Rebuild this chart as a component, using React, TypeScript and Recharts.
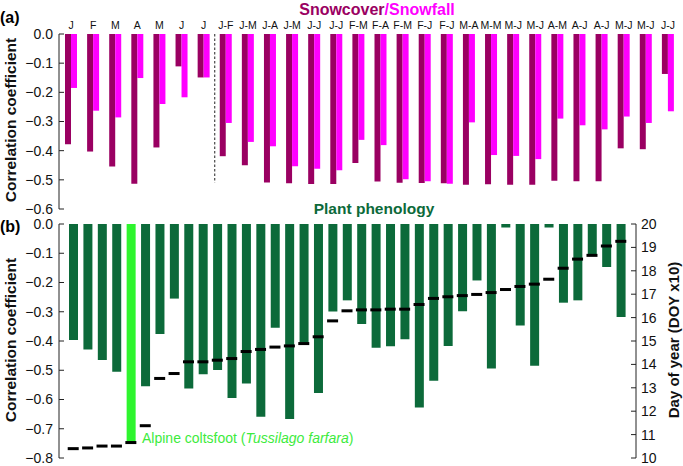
import React from 'react';
import { BarChart, Bar, ComposedChart, Line, XAxis, YAxis, ReferenceLine, Cell } from 'recharts';

// panel (a): snow cover / snowfall windows
const windowLabels = [
  'J', 'F', 'M', 'A', 'M', 'J', 'J',
  'J-F', 'J-M', 'J-A', 'J-M', 'J-J', 'J-J', 'F-M', 'F-A', 'F-M', 'F-J', 'F-J',
  'M-A', 'M-M', 'M-J', 'M-J', 'A-M', 'A-J', 'A-J', 'M-J', 'M-J', 'J-J',
];
const snowcover = [
  -0.378, -0.403, -0.454, -0.513, -0.389, -0.111, -0.149,
  -0.419, -0.45, -0.509, -0.512, -0.514, -0.514, -0.442, -0.506, -0.51, -0.511, -0.512,
  -0.517, -0.515, -0.517, -0.517, -0.503, -0.505, -0.505, -0.392, -0.395, -0.137,
];
const snowfall = [
  -0.185, -0.263, -0.286, -0.151, -0.24, -0.217, -0.149,
  -0.305, -0.37, -0.385, -0.453, -0.462, -0.467, -0.363, -0.381, -0.498, -0.505, -0.513,
  -0.303, -0.415, -0.418, -0.429, -0.29, -0.313, -0.327, -0.283, -0.305, -0.265,
];
const firstMultiMonth = 7;

// panel (b): plant phenology
const phenology = [
  -0.397, -0.429, -0.465, -0.505, -0.75, -0.555, -0.376, -0.255, -0.562, -0.514,
  -0.499, -0.595, -0.545, -0.659, -0.355, -0.667, -0.406, -0.578, -0.299, -0.261,
  -0.342, -0.423, -0.418, -0.394, -0.627, -0.536, -0.417, -0.298, -0.193, -0.494,
  -0.012, -0.347, -0.485, -0.012, -0.269, -0.261, -0.105, -0.147, -0.318,
];
const doy = [
  10.40, 10.43, 10.51, 10.51, 10.66, 11.38, 13.40, 13.61, 14.11, 14.11,
  14.18, 14.25, 14.55, 14.64, 14.74, 14.79, 14.89, 15.18, 15.86, 16.29,
  16.33, 16.33, 16.36, 16.36, 16.56, 16.82, 16.89, 16.94, 16.99, 17.07,
  17.20, 17.33, 17.43, 17.64, 18.11, 18.50, 18.66, 19.06, 19.26,
];
const coltsfoot = 4;

const ticksA = [0, -0.1, -0.2, -0.3, -0.4, -0.5, -0.6];
const ticksB = [0, -0.1, -0.2, -0.3, -0.4, -0.5, -0.6, -0.7, -0.8];
const doyTicks = [10, 11, 12, 13, 14, 15, 16, 17, 18, 19, 20];

const FONT = "'Liberation Sans', Arial, Helvetica, sans-serif";
const DARK_MAG = '#9a0062';
const LIGHT_MAG = '#ff00ff';
const DARK_GREEN = '#0c6a3a';
const BRIGHT_GREEN = '#2ef52e';

const fmtCorr = (v: number) => (v === 0 ? '0.0' : '\u2212' + Math.abs(v).toFixed(1));

const snowData = windowLabels.map((label, i) => ({
  id: i,
  label,
  snowcover: snowcover[i],
  snowfall: snowfall[i],
}));
const phenoData = phenology.map((corr, i) => ({ id: i, corr, doy: doy[i] }));

function Txt({ x, y, center = false, rotate = false, style, children }: any) {
  const tf = rotate ? 'translate(-50%,-50%) rotate(-90deg)' : center ? 'translate(-50%,-50%)' : 'translate(0,-50%)';
  return (
    <div
      style={{
        position: 'absolute',
        left: x,
        top: y,
        transform: tf,
        whiteSpace: 'nowrap',
        lineHeight: 1,
        fontFamily: FONT,
        ...style,
      }}
    >
      {children}
    </div>
  );
}

const Dash = (props: any) => {
  const { cx, cy, index } = props;
  if (cx == null || cy == null) return <g key={index} />;
  return <rect key={index} x={cx - 5.5} y={cy - 1.5} width={11} height={3} fill="#000" />;
};

const axisTick = { fontSize: 14, fill: '#111', fontFamily: FONT };

export default function App() {
  return (
    <div style={{ position: 'absolute', left: 0, top: 0, width: 683, height: 466, background: '#fff', overflow: 'hidden' }}>
      <div style={{ position: 'absolute', left: 0, top: 0 }}>
        <BarChart width={683} height={222} data={snowData} margin={{ top: 0, right: 4, left: 0, bottom: 13 }} barGap={0}>
          <XAxis
            dataKey="id"
            orientation="top"
            height={34}
            axisLine={false}
            tickLine={false}
            tickSize={0}
            tickMargin={5}
            interval={0}
            padding={{ left: 1, right: 0 }}
            tickFormatter={(v: number) => windowLabels[v]}
            tick={{ fontSize: 10.5, fill: '#111', fontFamily: FONT }}
          />
          <YAxis
            width={59}
            domain={[-0.6, 0]}
            ticks={ticksA}
            tickFormatter={fmtCorr}
            tick={axisTick}
            tickSize={-5}
            tickMargin={11}
            stroke="#222"
            interval={0}
          />
          <ReferenceLine
            segment={[{ x: firstMultiMonth, y: 0 }, { x: firstMultiMonth, y: -0.51 }]}
            position="start"
            stroke="#222"
            strokeDasharray="2.5 2"
          />
          <Bar dataKey="snowcover" fill={DARK_MAG} barSize={6} isAnimationActive={false} />
          <Bar dataKey="snowfall" fill={LIGHT_MAG} barSize={6} isAnimationActive={false} />
        </BarChart>
      </div>

      <div style={{ position: 'absolute', left: 0, top: 200 }}>
        <ComposedChart width={683} height={266} data={phenoData} margin={{ top: 24, right: 0, left: 0, bottom: 8 }}>
          <XAxis dataKey="id" hide padding={{ left: 7, right: 8 }} />
          <YAxis
            yAxisId="corr"
            width={59}
            domain={[-0.8, 0]}
            ticks={ticksB}
            tickFormatter={fmtCorr}
            tick={axisTick}
            tickSize={-5}
            tickMargin={11}
            stroke="#222"
            interval={0}
          />
          <YAxis
            yAxisId="doy"
            orientation="right"
            width={47}
            domain={[10, 20]}
            ticks={doyTicks}
            tick={axisTick}
            tickSize={-5}
            tickMargin={10}
            stroke="#222"
            interval={0}
          />
          <Bar yAxisId="corr" dataKey="corr" barSize={9} isAnimationActive={false}>
            {phenoData.map((d) => (
              <Cell key={d.id} fill={d.id === coltsfoot ? BRIGHT_GREEN : DARK_GREEN} />
            ))}
          </Bar>
          <Line
            yAxisId="doy"
            dataKey="doy"
            stroke="none"
            dot={Dash}
            activeDot={false}
            isAnimationActive={false}
          />
        </ComposedChart>
      </div>

      <Txt x={0} y={18} style={{ fontSize: 16, fontWeight: 'bold' }}>(a)</Txt>
      <Txt x={0} y={227} style={{ fontSize: 16, fontWeight: 'bold' }}>(b)</Txt>
      <Txt x={377} y={10} center style={{ fontSize: 16, fontWeight: 'bold' }}>
        <span style={{ color: DARK_MAG }}>Snowcover</span>
        <span style={{ color: LIGHT_MAG }}>/Snowfall</span>
      </Txt>
      <Txt x={374} y={209} center style={{ fontSize: 15.5, fontWeight: 'bold', color: DARK_GREEN }}>
        Plant phenology
      </Txt>
      <Txt x={11} y={120} rotate style={{ fontSize: 15.5, fontWeight: 'bold', color: '#111' }}>
        Correlation coefficient
      </Txt>
      <Txt x={11} y={340} rotate style={{ fontSize: 15.5, fontWeight: 'bold', color: '#111' }}>
        Correlation coefficient
      </Txt>
      <Txt x={673} y={340} rotate style={{ fontSize: 15, fontWeight: 'bold', color: '#111' }}>
        Day of year (DOY x10)
      </Txt>
      <Txt x={142} y={438} style={{ fontSize: 14, color: '#3deb3d' }}>
        Alpine coltsfoot (<i>Tussilago farfara</i>)
      </Txt>
    </div>
  );
}
